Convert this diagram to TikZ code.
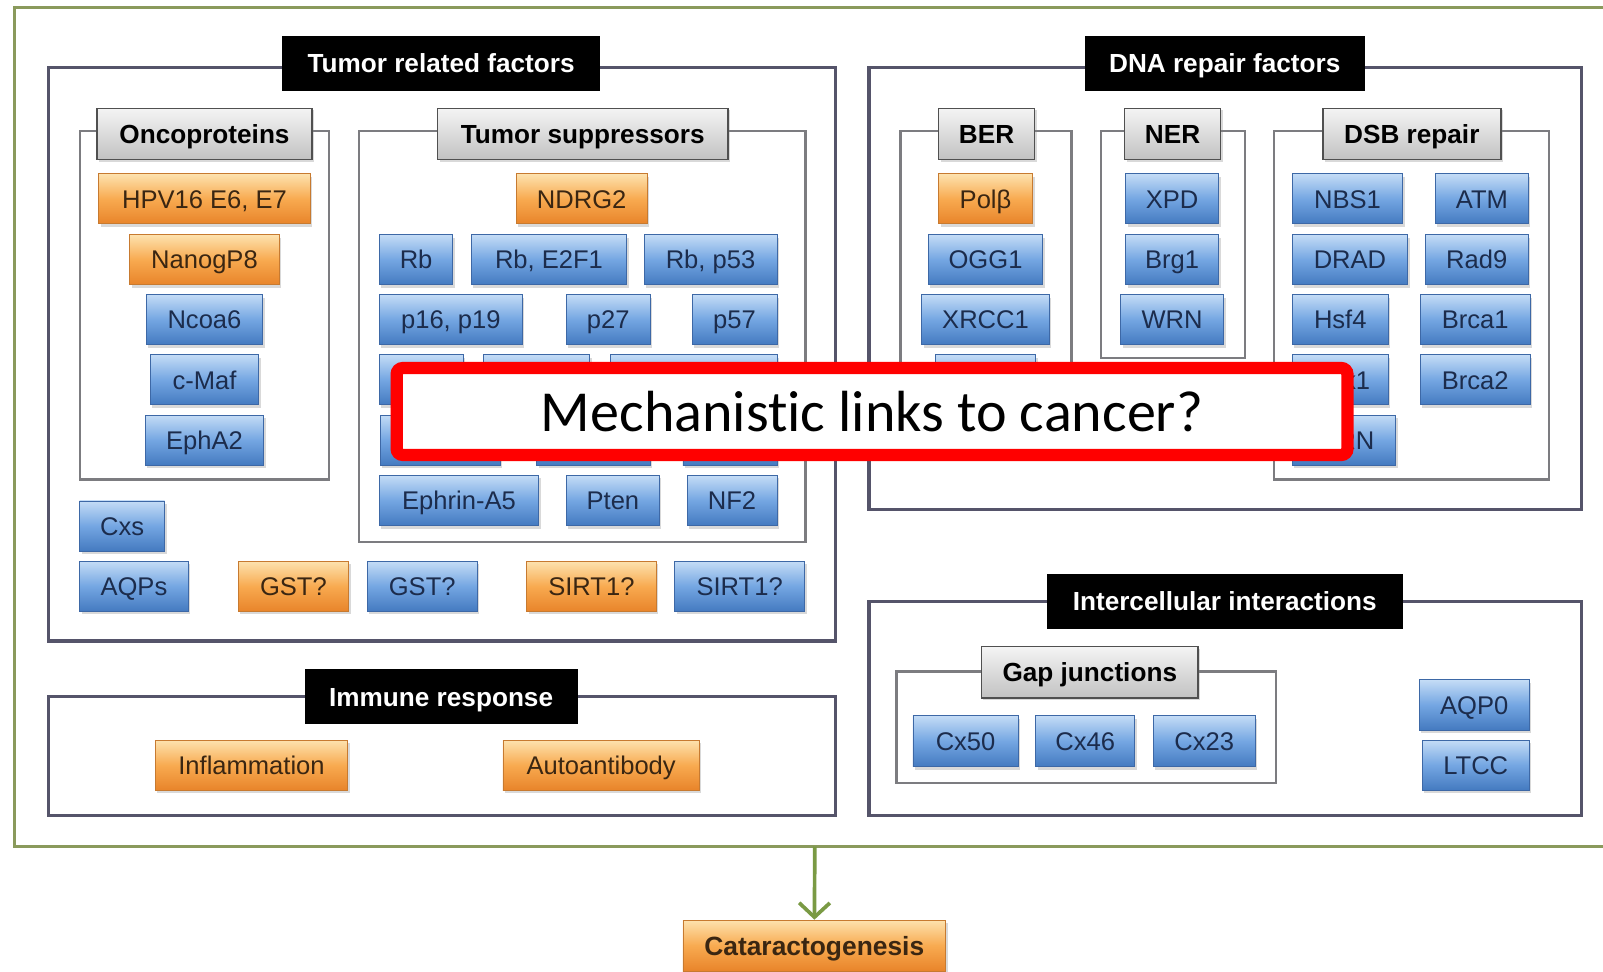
\documentclass[tikz,border=0pt]{standalone}
\usepackage{fontspec}
\setmainfont{Liberation Sans}
\newfontfamily\calibri[Ligatures=NoCommon]{Carlito}
\usepackage{tikz}
\usetikzlibrary{shadows}
\usetikzlibrary{arrows.meta}
\definecolor{outergreen}{HTML}{8A9A5C}
\definecolor{arrowgreen}{HTML}{7A9A44}
\definecolor{frameline}{HTML}{55546A}
\definecolor{subline}{HTML}{7C7C80}
\definecolor{greytop}{HTML}{F4F4F4}
\definecolor{greybot}{HTML}{C2C2C2}
\definecolor{greyedge}{HTML}{505050}
\definecolor{orTop}{HTML}{FDE2AE}
\definecolor{orMid}{HTML}{F8AA50}
\definecolor{orBot}{HTML}{E8842A}
\definecolor{orEdge}{HTML}{C77A30}
\definecolor{orText}{HTML}{3A2612}
\definecolor{blTop}{HTML}{C4DCF6}
\definecolor{blMid}{HTML}{74A6E2}
\definecolor{blBot}{HTML}{447AC0}
\definecolor{blEdge}{HTML}{3D68A6}
\definecolor{blText}{HTML}{1C2C4C}

\begin{document}
\begin{tikzpicture}[x=0.5pt,y=-0.5pt,
fbox/.style={draw=frameline,line width=1.5pt},
sbox/.style={draw=subline,line width=1.2pt},
head/.style={fill=black,text=white,inner sep=0pt,minimum height=27pt,text height=11.7pt,text depth=2.5pt,font=\fontsize{12.8}{14}\selectfont\bfseries},
sub/.style={draw=greyedge,line width=0.8pt,top color=greytop,bottom color=greybot,text=black,inner sep=0pt,minimum height=25pt,text height=11.7pt,text depth=2.5pt,font=\fontsize{12.8}{14}\selectfont\bfseries,drop shadow={shadow xshift=1pt,shadow yshift=-1pt,opacity=0.3}},
gene/.style={inner sep=0pt,minimum height=24.5pt,text height=11.5pt,text depth=2.5pt,line width=0.4pt,font=\fontsize{12.5}{14}\selectfont,drop shadow={shadow xshift=1pt,shadow yshift=-1.5pt,opacity=0.3}},
ob/.style={gene,draw=orEdge,top color=orTop,bottom color=orBot,middle color=orMid,text=orText},
bb/.style={gene,draw=blEdge,top color=blTop,bottom color=blBot,middle color=blMid,text=blText},
bw/.style={minimum width=#1*0.5pt}]
\useasboundingbox (0,0) rectangle (1568,950);

% frames
\draw[draw=outergreen,line width=1.5pt] (14,7) rectangle (1590,828);
\draw[fbox] (47,66) rectangle (817,627);
\draw[sbox] (78,128) rectangle (322,469);
\draw[sbox] (351,128) rectangle (788,530);
\draw[fbox] (47,681) rectangle (817,798);
\draw[fbox] (850,66) rectangle (1547,498);
\draw[sbox] (881,128) rectangle (1048,440);
\draw[sbox] (1077,128) rectangle (1218,350);
\draw[sbox] (1246,128) rectangle (1515,469);
\draw[fbox] (850,588) rectangle (1547,798);
\draw[sbox] (877,657) rectangle (1248,766);

% frame titles
\node[head,bw=311] (tumor) at (431.5,62) {Tumor related factors};
\node[head,bw=274] (dna) at (1198,62) {DNA repair factors};
\node[head,bw=267] (immune) at (431.5,681.5) {Immune response};
\node[head,bw=348] (inter) at (1198,588) {Intercellular interactions};
\node[sub,bw=210] (onco) at (200,131) {Oncoproteins};
\node[sub,bw=284] (supp) at (570,131) {Tumor suppressors};
\node[sub,bw=94] (ber) at (965,131) {BER};
\node[sub,bw=94] (ner) at (1147,131) {NER};
\node[sub,bw=174] (dsb) at (1381,131) {DSB repair};
\node[sub,bw=212] (gap) at (1066,657.5) {Gap junctions};

% oncoproteins
\foreach \n/\s/\y/\w/\t in {hpv/ob/194.5/207/{HPV16 E6, E7},nanog/ob/254/146/NanogP8,ncoa/bb/312.5/114/Ncoa6,cmaf/bb/371.5/106/c-Maf,epha/bb/430.5/116/EphA2}
\node[\s,bw=\w] (\n) at (200,\y) {\t};

% tumor suppressors
\node[ob,bw=128] (ndrg) at (569,194.5) {NDRG2};
\foreach \n/\x/\w/\t in {rb/407/72/Rb,rbe/537/152/{Rb, E2F1},rbp/695/130/{Rb, p53}}
\node[bb,bw=\w] (\n) at (\x,254) {\t};
\foreach \n/\x/\w/\t in {p16/441/140/{p16, p19},p27/595/82/p27,p57/718.5/83/p57}
\node[bb,bw=\w] (\n) at (\x,312.5) {\t};
\foreach \n/\x/\w in {ts41/412/82,ts42/525/104,ts43/678.5/163}
\node[bb,bw=\w] (\n) at (\x,371.5) {};
\foreach \n/\x/\w in {ts51/430.5/117,ts52/580.5/111,ts53/714/92}
\node[bb,bw=\w] (\n) at (\x,430.5) {};
\foreach \n/\x/\w/\t in {eph/449/156/Ephrin-A5,pten/599.5/91/Pten,nf/716/88/NF2}
\node[bb,bw=\w] (\n) at (\x,489.5) {\t};

% loose factors
\node[bb,bw=83] (cxs) at (119.5,514.5) {Cxs};
\foreach \n/\s/\x/\w/\t in {aqps/bb/131/106/AQPs,gsto/ob/287/108/GST?,gstb/bb/413/108/GST?,sirto/ob/578.5/127/SIRT1?,sirtb/bb/723.5/127/SIRT1?}
\node[\s,bw=\w] (\n) at (\x,573.5) {\t};

% immune response
\node[ob,bw=188] (infl) at (246,748.5) {Inflammation};
\node[ob,bw=192] (auto) at (588,748.5) {Autoantibody};

% BER / NER
\foreach \n/\s/\y/\w/\t in {pol/ob/194.5/92/Polβ,ogg/bb/254/112/OGG1,xrcc/bb/312.5/125/XRCC1,ber4/bb/371.5/98/{}}
\node[\s,bw=\w] (\n) at (964,\y) {\t};
\foreach \n/\y/\w/\t in {xpd/194.5/91/XPD,brg/254/91/Brg1,wrnn/312.5/101/WRN}
\node[bb,bw=\w] (\n) at (1146.5,\y) {\t};

% DSB repair
\foreach \n/\x/\y/\w/\t in {nbs/1318/194.5/108/NBS1,atm/1449.5/194.5/91/ATM,drad/1320.5/254/113/DRAD,rad/1444.5/254/101/Rad9,hsf/1311/312.5/94/Hsf4,brcaa/1443/312.5/108/Brca1,chk/1311/371.5/94/Chk1,brcab/1443/371.5/108/Brca2,wrnd/1314.5/430.5/101/WRN}
\node[bb,bw=\w] (\n) at (\x,\y) {\t};

% intercellular interactions
\foreach \n/\x/\w/\t in {cxa/944.5/103/Cx50,cxb/1061.5/97/Cx46,cxc/1178/100/Cx23}
\node[bb,bw=\w,minimum height=25pt] (\n) at (\x,725) {\t};
\node[bb,bw=108] (aqp) at (1442,689.5) {AQP0};
\node[bb,bw=105] (ltcc) at (1443.5,748.5) {LTCC};

% overlay
\node[draw=red,line width=6pt,fill=white,rounded corners=3pt,minimum width=465pt,minimum height=42.5pt,font=\calibri\fontsize{28.4}{30}\selectfont] (mech) at (853,402.5) {Mechanistic links to cancer?};

% outcome
\node[ob,bw=257,minimum height=25pt,text height=11.7pt,font=\fontsize{12.9}{14}\selectfont\bfseries] (cat) at (796.5,925) {Cataractogenesis};
\coordinate (outbot) at (797,828);
\draw[arrowgreen,line width=1.8pt,-{Straight Barb[length=7pt,width=15pt,line width=1.8pt]}] (outbot) -- (cat);
\end{tikzpicture}
\end{document}
